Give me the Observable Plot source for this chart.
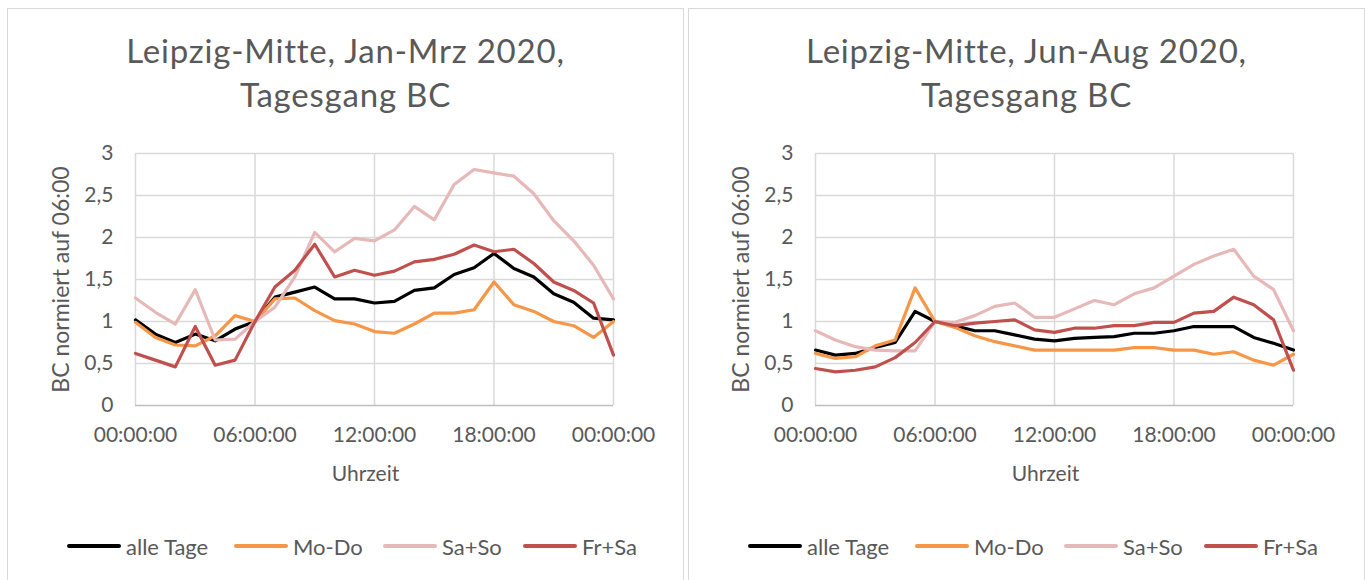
<!DOCTYPE html>
<html>
<head>
<meta charset="utf-8">
<script src="https://cdn.jsdelivr.net/npm/d3@7"></script>
<script src="https://cdn.jsdelivr.net/npm/@observablehq/plot@0.6"></script>
<style>
  html, body { margin: 0; padding: 0; background: #fff; }
  #root { position: relative; width: 1365px; height: 580px; overflow: hidden; font-family: Lato, "Open Sans", sans-serif; color: #595959; }
  .panel { position: absolute; box-sizing: border-box; border: 1.5px solid #d9d9d9; background: #fff; }
  .title { position: absolute; text-align: center; font-size: 33px; letter-spacing: 0.8px; line-height: 44px; white-space: nowrap; }
  .legitem { position: absolute; display: flex; align-items: center; font-size: 22px; white-space: nowrap; }
  .swatch { width: 54px; height: 0; border-top: 4px solid; border-radius: 2px; margin-right: 5px; }
  .plotbox { position: absolute; }
</style>
</head>
<body>
<div id="root"></div>
<script>
// ---- data ----
const hours = [0,1,2,3,4,5,6,7,8,9,10,11,12,13,14,15,16,17,18,19,20,21,22,23,24];
const xTicks = [0, 6, 12, 18, 24];
const xTickLabels = ["00:00:00", "06:00:00", "12:00:00", "18:00:00", "00:00:00"];
const yTicks = [0, 0.5, 1, 1.5, 2, 2.5, 3];
const seriesNames = ["alle Tage", "Mo-Do", "Sa+So", "Fr+Sa"];
const seriesColors = ["#000000", "#F79646", "#E6B9B8", "#C0504D"];
const titles = ["Leipzig-Mitte, Jan-Mrz 2020,\nTagesgang BC", "Leipzig-Mitte, Jun-Aug 2020,\nTagesgang BC"];
const xLabel = "Uhrzeit";
const yLabel = "BC normiert auf 06:00";

// Jan-Mrz 2020
const janAlle = [1.02,0.85,0.75,0.85,0.77,0.91,1.00,1.29,1.35,1.41,1.27,1.27,1.22,1.24,1.37,1.40,1.56,1.64,1.81,1.63,1.53,1.33,1.23,1.04,1.02];
const janMoDo = [0.99,0.81,0.72,0.71,0.83,1.07,1.00,1.27,1.28,1.13,1.01,0.97,0.88,0.86,0.97,1.10,1.10,1.14,1.47,1.20,1.12,1.00,0.95,0.81,1.00];
const janSaSo = [1.28,1.11,0.97,1.38,0.78,0.79,1.00,1.17,1.53,2.06,1.83,1.99,1.96,2.09,2.37,2.21,2.63,2.81,2.77,2.73,2.52,2.20,1.96,1.67,1.27];
const janFrSa = [0.62,0.54,0.46,0.94,0.48,0.54,1.00,1.41,1.61,1.92,1.53,1.61,1.55,1.60,1.71,1.74,1.80,1.91,1.83,1.86,1.69,1.47,1.37,1.22,0.60];

// Jun-Aug 2020
const junAlle = [0.66,0.60,0.62,0.69,0.75,1.12,1.00,0.95,0.89,0.89,0.84,0.79,0.77,0.80,0.81,0.82,0.86,0.86,0.89,0.94,0.94,0.94,0.81,0.74,0.66];
const junMoDo = [0.62,0.56,0.58,0.71,0.78,1.40,1.00,0.93,0.83,0.76,0.71,0.66,0.66,0.66,0.66,0.66,0.69,0.69,0.66,0.66,0.61,0.64,0.54,0.48,0.61];
const junSaSo = [0.89,0.78,0.70,0.66,0.65,0.65,1.00,0.99,1.07,1.18,1.22,1.05,1.05,1.15,1.25,1.20,1.33,1.40,1.54,1.68,1.78,1.86,1.54,1.38,0.89];
const junFrSa = [0.44,0.40,0.42,0.46,0.57,0.75,1.00,0.95,0.98,1.00,1.02,0.90,0.87,0.92,0.92,0.95,0.95,0.99,0.99,1.10,1.12,1.29,1.20,1.02,0.42];

const panelsData = [
  [janAlle, janMoDo, janSaSo, janFrSa],
  [junAlle, junMoDo, junSaSo, junFrSa]
];

// ---- layout ----
const layout = [
  {panelLeft: 7, plotLeft: 128, plotRight: 71},
  {panelLeft: 688, plotLeft: 127, plotRight: 72}
];
const panelTop = 8, panelWidth = 677, panelHeight = 600;
const svgTop = 140, svgHeight = 360;
const legendOffsets = [60, 227, 376, 516];
const legendY = 546;

const root = document.getElementById("root");

panelsData.forEach((series, p) => {
  const L = layout[p];
  const panel = document.createElement("div");
  panel.className = "panel";
  Object.assign(panel.style, {left: L.panelLeft + "px", top: panelTop + "px", width: panelWidth + "px", height: panelHeight + "px"});
  root.appendChild(panel);

  const t = document.createElement("div");
  t.className = "title";
  Object.assign(t.style, {left: L.panelLeft + "px", width: panelWidth + "px", top: "28px"});
  t.innerHTML = titles[p].split("\n").join("<br>");
  root.appendChild(t);

  const rows = [];
  series.forEach((vals, s) => vals.forEach((v, i) => rows.push({hour: hours[i], value: v, name: seriesNames[s]})));

  const chart = Plot.plot({
    width: panelWidth,
    height: svgHeight,
    marginLeft: L.plotLeft,
    marginRight: L.plotRight,
    marginTop: 13,
    marginBottom: 95,
    style: {fontFamily: "Lato, 'Open Sans', sans-serif", fontSize: "21px", color: "#595959", background: "transparent"},
    x: {domain: [0, 24]},
    y: {domain: [0, 3]},
    color: {domain: seriesNames, range: seriesColors},
    marks: [
      Plot.gridY(yTicks.filter(d => d > 0), {stroke: "#d9d9d9", strokeOpacity: 1, strokeWidth: 1.5}),
      Plot.gridX(xTicks, {stroke: "#d9d9d9", strokeOpacity: 1, strokeWidth: 1.5}),
      Plot.ruleY([0], {stroke: "#bfbfbf", strokeWidth: 1.5}),
      Plot.axisX(xTicks, {tickSize: 0, tickPadding: 22, tickFormat: (d, i) => xTickLabels[i], label: null, fontSize: 21}),
      Plot.axisY(yTicks, {tickSize: 0, tickPadding: 22, tickFormat: d => String(d).replace(".", ","), label: null, fontSize: 21}),
      Plot.line(rows, {x: "hour", y: "value", z: "name", stroke: "name", strokeWidth: 3.2, strokeLinejoin: "round", strokeLinecap: "round"}),
      Plot.text([xLabel], {text: d => d, frameAnchor: "bottom", textAnchor: "middle", lineAnchor: "middle", dx: -9, dy: 69, fontSize: 21, fill: "#595959"}),
      Plot.text([yLabel], {text: d => d, frameAnchor: "left", textAnchor: "middle", lineAnchor: "middle", dx: -74, rotate: -90, fontSize: 23, letterSpacing: "1.1px", fill: "#595959"})
    ]
  });
  const box = document.createElement("div");
  box.className = "plotbox";
  Object.assign(box.style, {left: L.panelLeft + "px", top: svgTop + "px"});
  box.appendChild(chart);
  root.appendChild(box);

  seriesNames.forEach((name, s) => {
    const item = document.createElement("div");
    item.className = "legitem";
    Object.assign(item.style, {left: (L.panelLeft + legendOffsets[s]) + "px", top: (legendY - 14) + "px", height: "28px"});
    const sw = document.createElement("div");
    sw.className = "swatch";
    sw.style.borderTopColor = seriesColors[s];
    const tx = document.createElement("span");
    tx.textContent = name;
    item.appendChild(sw);
    item.appendChild(tx);
    root.appendChild(item);
  });
});
</script>
</body>
</html>
